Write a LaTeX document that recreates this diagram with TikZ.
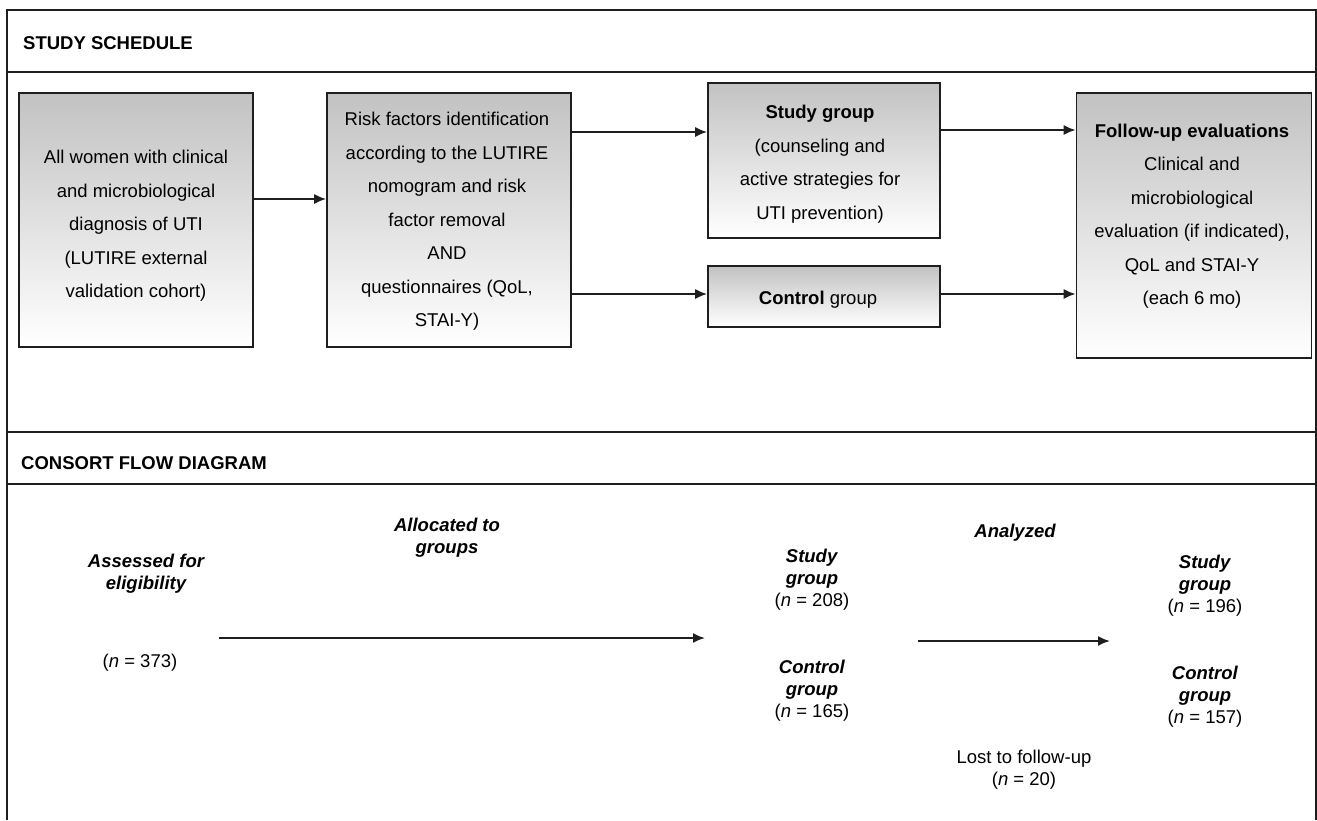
\documentclass[tikz,border=0pt]{standalone}
\usepackage{fontspec}
\setmainfont{Liberation Sans}
\usetikzlibrary{arrows.meta,calc}
\definecolor{boxtop}{RGB}{194,194,194}
\definecolor{edge}{RGB}{30,30,30}
\begin{document}
\begin{tikzpicture}[x=1pt,y=-1pt,
  box/.style={draw=edge, line width=1.6pt, top color=boxtop, bottom color=white, inner sep=0pt},
  boxtxt/.style={align=center, font=\fontsize{18.5}{33.5}\selectfont, inner sep=0pt},
  ftxt/.style={align=center, font=\fontsize{18.5}{22}\selectfont, inner sep=0pt},
  head/.style={anchor=west, font=\fontsize{18.5}{22}\selectfont\bfseries, inner sep=0pt},
  arr/.style={draw=edge, line width=1.9pt, -{Latex[length=12pt,width=10pt]}},
  frameline/.style={draw=edge, line width=2pt}]
\useasboundingbox (0,0) rectangle (1317,820);
\fill[white] (0,0) rectangle (1317,820);

% frame and section lines
\draw[frameline] (6.5,820) -- (6.5,9.5) -- (1316,9.5) -- (1316,820);
\draw[frameline] (6.5,72) -- (1316,72);
\draw[frameline] (6.5,432) -- (1316,432);
\draw[frameline] (6.5,484) -- (1316,484);

\node[head] (h1) at (23,43) {STUDY SCHEDULE};
\node[head] (h2) at (21,463) {CONSORT FLOW DIAGRAM};

% study schedule boxes
\node[box, minimum width=234pt, minimum height=254pt] (b1) at (136,220) {};
\node[box, minimum width=244pt, minimum height=254pt] (b2) at (449,220) {};
\node[box, minimum width=232pt, minimum height=155pt] (sg) at (824,160.5) {};
\node[box, minimum width=232pt, minimum height=61pt] (cg) at (824,296.5) {};
\node[box, minimum width=235pt, minimum height=265pt] (fu) at (1194,225.5) {};

\node[boxtxt] (b1t) at (136,226) {All women with clinical\\and microbiological\\diagnosis of UTI\\(LUTIRE external\\validation cohort)};
\node[boxtxt] (b2t) at (447,221.5) {Risk factors identification\\according to the LUTIRE\\nomogram and risk\\factor removal\\AND\\questionnaires (QoL,\\STAI-Y)};
\node[boxtxt] (sgt) at (820,164) {\textbf{Study group}\\(counseling and\\active strategies for\\UTI prevention)};
\node[boxtxt] (cgt) at (818,300) {\textbf{Control} group};
\node[boxtxt] (fut) at (1192,216) {\textbf{Follow-up evaluations}\\Clinical and\\microbiological\\evaluation (if indicated),\\QoL and STAI-Y\\(each 6 mo)};

% study schedule arrows
\draw[arr] ([yshift=21pt]b1.east) -- ([yshift=21pt]b2.west);
\draw[arr] ([yshift=88pt]b2.east) -- ([yshift=88pt]b2.east -| sg.west);
\draw[arr] ([yshift=-74pt]b2.east) -- ([yshift=-74pt]b2.east -| cg.west);
\draw[arr] ([yshift=30.5pt]sg.east) -- ([yshift=30.5pt]sg.east -| fu.west);
\draw[arr] ([yshift=2.5pt]cg.east) -- ([yshift=2.5pt]cg.east -| fu.west);

% consort flow diagram
\node[ftxt, font=\fontsize{18.5}{22}\selectfont\bfseries\itshape] (assess) at (146,574) {Assessed for\\eligibility};
\node[ftxt] (n373) at (140,663) {(\textit{n} = 373)};
\node[ftxt, font=\fontsize{18.5}{22}\selectfont\bfseries\itshape] (alloc) at (447,538) {Allocated to\\groups};
\node[ftxt] (smid) at (812,580) {\textbf{\textit{Study}}\\\textbf{\textit{group}}\\(\textit{n} = 208)};
\node[ftxt] (cmid) at (812,691) {\textbf{\textit{Control}}\\\textbf{\textit{group}}\\(\textit{n} = 165)};
\node[ftxt, font=\fontsize{18.5}{22}\selectfont\bfseries\itshape] (anal) at (1015,533) {Analyzed};
\node[ftxt] (srt) at (1205,586) {\textbf{\textit{Study}}\\\textbf{\textit{group}}\\(\textit{n} = 196)};
\node[ftxt] (crt) at (1205,697) {\textbf{\textit{Control}}\\\textbf{\textit{group}}\\(\textit{n} = 157)};
\node[ftxt] (lost) at (1024,770) {Lost to follow-up\\(\textit{n} = 20)};

\coordinate (a1s) at (219,638);
\coordinate (a1e) at (705,638);
\coordinate (a2s) at (918,641);
\coordinate (a2e) at (1110,641);
\draw[arr] (a1s) -- (a1e);
\draw[arr] (a2s) -- (a2e);
\end{tikzpicture}
\end{document}
